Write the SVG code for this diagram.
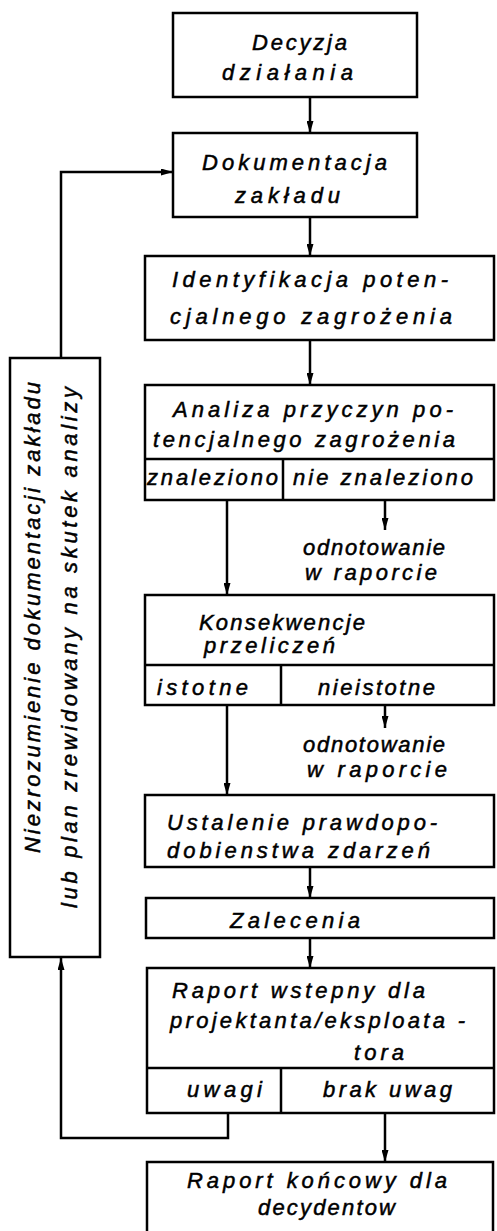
<svg xmlns="http://www.w3.org/2000/svg" width="497" height="1231" viewBox="0 0 497 1231">
<style>
.box{fill:#fff;stroke:#000;stroke-width:2.5}
.ln{fill:none;stroke:#000;stroke-width:2.5}
.t{font-family:"Liberation Sans","DejaVu Sans",sans-serif;font-style:italic;font-size:22px;fill:#000;stroke:#000;stroke-width:0.5}
</style>
<defs>
<marker id="ah" viewBox="0 0 10 10" refX="10" refY="5" markerWidth="12" markerHeight="7" markerUnits="userSpaceOnUse" orient="auto" preserveAspectRatio="none">
<path d="M0,0 L10,5 L0,10 z" fill="#000"/>
</marker>
</defs>
<rect width="497" height="1231" fill="#fff"/>
<g id="connectors">
<path class="ln" d="M310,97 V133" marker-end="url(#ah)"/>
<path class="ln" d="M310,217 V256" marker-end="url(#ah)"/>
<path class="ln" d="M310,340 V385" marker-end="url(#ah)"/>
<path class="ln" d="M227,500 V595" marker-end="url(#ah)"/>
<path class="ln" d="M385,500 V530" marker-end="url(#ah)"/>
<path class="ln" d="M227,705 V795" marker-end="url(#ah)"/>
<path class="ln" d="M385,705 V728" marker-end="url(#ah)"/>
<path class="ln" d="M310,867 V898" marker-end="url(#ah)"/>
<path class="ln" d="M310,938 V968" marker-end="url(#ah)"/>
<path class="ln" d="M228,1113 V1138 H61 V958" marker-end="url(#ah)"/>
<path class="ln" d="M61,358 V172 H173" marker-end="url(#ah)"/>
<path class="ln" d="M385,1113 V1162" marker-end="url(#ah)"/>
</g>
<g id="decyzja">
<rect class="box" x="173" y="13" width="244" height="84"/>
<text class="t" x="252" y="50" textLength="95" lengthAdjust="spacing">Decyzja</text>
<text class="t" x="222" y="80" textLength="131" lengthAdjust="spacing">działania</text>
</g>
<g id="dokumentacja">
<rect class="box" x="173" y="133" width="244" height="84"/>
<text class="t" x="202" y="170" textLength="185" lengthAdjust="spacing">Dokumentacja</text>
<text class="t" x="235" y="203" textLength="105" lengthAdjust="spacing">zakładu</text>
</g>
<g id="identyfikacja">
<rect class="box" x="145" y="256" width="349" height="84"/>
<text class="t" x="172" y="287" textLength="276" lengthAdjust="spacing">Identyfikacja poten-</text>
<text class="t" x="170" y="324" textLength="282" lengthAdjust="spacing">cjalnego zagrożenia</text>
</g>
<g id="analiza">
<rect class="box" x="145" y="385" width="349" height="115"/>
<path class="ln" d="M145,459 H494 M283,459 V500"/>
<text class="t" x="173" y="417" textLength="280" lengthAdjust="spacing">Analiza przyczyn po-</text>
<text class="t" x="153" y="447" textLength="302" lengthAdjust="spacing">tencjalnego zagrożenia</text>
<text class="t" x="147" y="485" textLength="131" lengthAdjust="spacing">znaleziono</text>
<text class="t" x="293" y="485" textLength="180" lengthAdjust="spacing">nie znaleziono</text>
</g>
<g id="note1">
<text class="t" x="303" y="555" textLength="142" lengthAdjust="spacing">odnotowanie</text>
<text class="t" x="305" y="580" textLength="132" lengthAdjust="spacing">w raporcie</text>
</g>
<g id="konsekwencje">
<rect class="box" x="145" y="595" width="349" height="110"/>
<path class="ln" d="M145,665 H494 M281,665 V705"/>
<text class="t" x="199" y="630" textLength="166" lengthAdjust="spacing">Konsekwencje</text>
<text class="t" x="204" y="653" textLength="131" lengthAdjust="spacing">przeliczeń</text>
<text class="t" x="157" y="695" textLength="91" lengthAdjust="spacing">istotne</text>
<text class="t" x="318" y="695" textLength="117" lengthAdjust="spacing">nieistotne</text>
</g>
<g id="note2">
<text class="t" x="303" y="752" textLength="142" lengthAdjust="spacing">odnotowanie</text>
<text class="t" x="307" y="777" textLength="140" lengthAdjust="spacing">w raporcie</text>
</g>
<g id="ustalenie">
<rect class="box" x="145" y="795" width="349" height="72"/>
<text class="t" x="167" y="830" textLength="270" lengthAdjust="spacing">Ustalenie prawdopo-</text>
<text class="t" x="167" y="858" textLength="263" lengthAdjust="spacing">dobienstwa zdarzeń</text>
</g>
<g id="zalecenia">
<rect class="box" x="146" y="898" width="348" height="40"/>
<text class="t" x="230" y="928" textLength="130" lengthAdjust="spacing">Zalecenia</text>
</g>
<g id="raport-wstepny">
<rect class="box" x="147" y="968" width="347" height="145"/>
<path class="ln" d="M147,1068 H494 M281,1068 V1113"/>
<text class="t" x="172" y="998" textLength="253" lengthAdjust="spacing">Raport wstepny dla</text>
<text class="t" x="170" y="1028" textLength="295" lengthAdjust="spacing">projektanta/eksploata -</text>
<text class="t" x="354" y="1060" textLength="50" lengthAdjust="spacing">tora</text>
<text class="t" x="187" y="1097" textLength="75" lengthAdjust="spacing">uwagi</text>
<text class="t" x="323" y="1097" textLength="129" lengthAdjust="spacing">brak uwag</text>
</g>
<g id="raport-koncowy">
<rect class="box" x="147" y="1162" width="346" height="80"/>
<text class="t" x="187" y="1188" textLength="260" lengthAdjust="spacing">Raport końcowy dla</text>
<text class="t" x="258" y="1215" textLength="137" lengthAdjust="spacing">decydentow</text>
</g>
<g id="niezrozumienie">
<rect class="box" x="10" y="358" width="90" height="599"/>
<text class="t" transform="translate(40,853) rotate(-90)" x="0" y="0" textLength="471" lengthAdjust="spacing">Niezrozumienie dokumentacji zakładu</text>
<text class="t" transform="translate(77,908) rotate(-90)" x="0" y="0" textLength="521" lengthAdjust="spacing">lub plan zrewidowany na skutek analizy</text>
</g>
</svg>
